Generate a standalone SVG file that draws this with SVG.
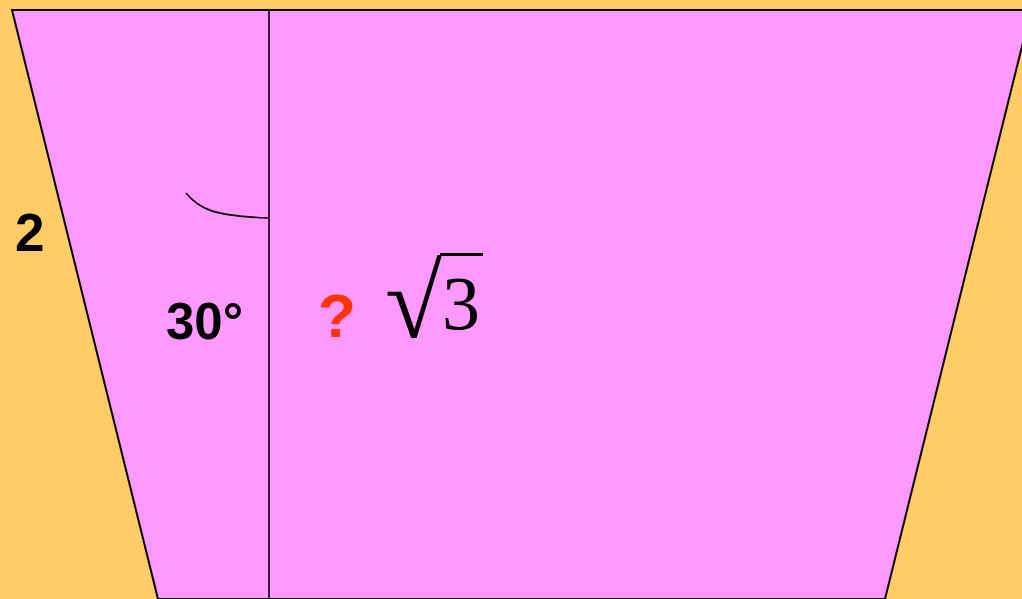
<svg xmlns="http://www.w3.org/2000/svg" width="1022" height="599" viewBox="0 0 1022 599">
<style>
.lbl{font-family:"Liberation Sans",Arial,sans-serif;font-weight:bold;fill:#000}
.math{font-family:"Liberation Serif","Times New Roman",serif;fill:#000}
.ln{stroke:#000;stroke-width:1.6;fill:none}
</style>
<rect x="0" y="0" width="1022" height="599" fill="#FFCC66"/>
<g id="trapezoid">
<polygon points="12,10 1031,10 885,599 158,599" fill="#FF99FF" stroke="#000" stroke-width="2"/>
</g>
<g id="connectors">
<line class="ln" x1="269" y1="10" x2="269" y2="599"/>
<path class="ln" d="M186,193 C200,210 215,216 268,218"/>
</g>
<g id="labels">
<text class="lbl" x="15" y="251" font-size="53">2</text>
<text class="lbl" x="166" y="339" font-size="51">30°</text>
<text class="lbl" x="318" y="337" font-size="62" style="fill:#FF3300">?</text>
<text class="math" x="385" y="337" font-size="104">√</text>
<line x1="440" y1="254.5" x2="483" y2="254.5" stroke="#000" stroke-width="3"/>
<text class="math" x="442" y="329" font-size="76">3</text>
</g>
</svg>
